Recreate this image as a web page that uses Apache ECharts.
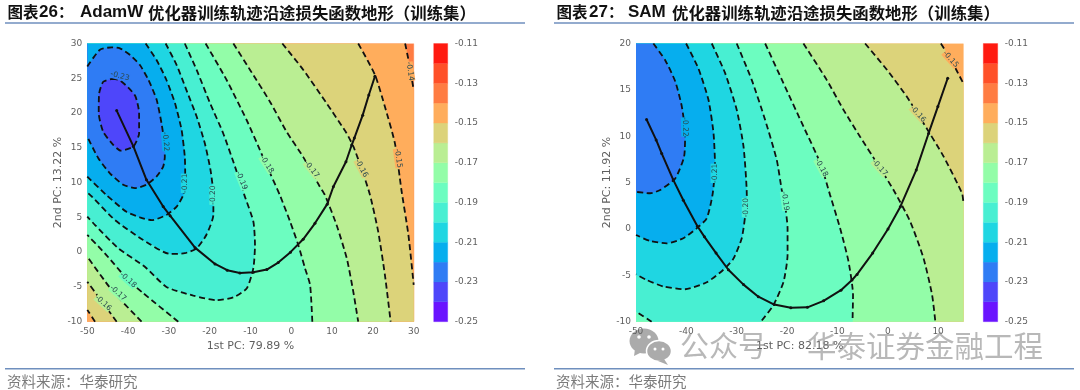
<!DOCTYPE html>
<html><head><meta charset="utf-8">
<style>html,body{margin:0;padding:0;background:#fff}#c{width:1080px;height:390px}</style>
<script src="https://cdn.jsdelivr.net/npm/echarts@6/dist/echarts.min.js"></script>
</head><body><div id="c"></div>
<script>
// Colour bands, low to high: one colour for each 0.01 of loss between -0.25 and -0.11
const bandColors = ['#6a14ff','#4e46fa','#2f7cf4','#06aeee','#1fd6e2','#48efd2','#6cfdc0','#93fda8','#baee93','#dcd37a','#ffad5c','#ff7c42','#ff5028','#ff1a10'];

// AdamW: contour lines [pc1, pc2]
const adam14 = [[27.9,30],[28.9,27.1],[30,23.3]];
const adam15 = [[16.4,30],[20.5,25.5],[22.95,20.9],[25.4,15.65],[27,8.9],[28.7,2.5],[30,-4.7]];
const adam15b = [[-48.1,-10],[-50,-8.3]];
const adam16 = [[-2.2,30],[2.95,26.2],[8.65,21.4],[13.55,17.1],[15.2,15.2],[17.2,12.05],[19.3,8.2],[21.3,2.95],[22.95,-3.3],[24.35,-10]];
const adam16b = [[-42.8,-10],[-47.3,-6.4],[-50,-4.25]];
const adam17 = [[-14.2,30],[-10.1,26.2],[-5.2,21.6],[-1.15,17.3],[2.9,13.7],[7,9.4],[8.25,8.2],[11.1,3.9],[13.6,-0.9],[15.2,-5.7],[16.4,-10]];
const adam17b = [[-36.7,-10],[-44,-5.45],[-50,-0.65]];
const adam18 = [[-21,30],[-15.85,24.75],[-10.95,19],[-7.7,14.7],[-5.2,11.35],[-2.8,8.2],[-0.3,4.4],[1.7,1.05],[3.35,-2.3],[4.6,-4.7],[5.15,-10]];
const adam18b = [[-27.7,-10],[-36.3,-5.9],[-40,-4],[-45.7,-0.17],[-50,2.47]];
const adam19 = [[-26.1,30],[-23.2,26.2],[-19.9,21.4],[-16.7,17.1],[-13.8,12.3],[-11.5,8.2],[-9.3,4.4],[-8.9,1],[-9.3,-2.3],[-10.9,-5.2],[-14.2,-6.5],[-18.3,-6.9],[-24,-6.25],[-30.6,-5],[-35.9,-2.1],[-42.4,0.55],[-48.1,3.9],[-50,5.1]];
const adam20 = [[-30.8,30],[-28.1,26.9],[-25.7,23.3],[-23.2,19.5],[-21.2,15.65],[-19.8,11.8],[-19.1,8.2],[-19.1,5.35],[-20.8,2.5],[-23.2,0.55],[-26.1,-0.15],[-29.7,-0.26],[-36.3,1.75],[-43.2,4.6],[-48.9,8],[-50,8.6]];
const adam21 = [[-35.7,30],[-33,27.6],[-30.6,24.75],[-28.5,21.4],[-26.9,17.6],[-26.1,13.7],[-26,10.9],[-26.5,8.2],[-28.1,6.55],[-30.6,5.35],[-34.2,4.6],[-37.1,5],[-40.4,5.8],[-45.3,8.2],[-50,10.85]];
const adam22 = [[-50,26.7],[-46.9,29.1],[-44,29.45],[-42,29.3],[-39.5,28.35],[-37.1,26.9],[-35,24.75],[-33,21.9],[-31.8,18.5],[-31.2,16.1],[-31,13.7],[-31.4,12.3],[-33,10.9],[-35.5,9.7],[-38.3,9.2],[-41.2,9.7],[-44.4,11.3],[-47.3,13.5],[-50,16.6]];
const adam23 = [[-44,24.9],[-42.2,24.75],[-40,23.7],[-38.2,22.4],[-37.3,20],[-37.3,17.1],[-38.7,15.2],[-41.8,14.6],[-43.6,15.4],[-46.1,17.3],[-47.2,20],[-47.1,22.8],[-46.1,24.5],[-44,24.9]];
const adamPath = [[-42.8,20.35],[-38.7,15.2],[-35.5,10.4],[-31.4,6.55],[-29.7,5.25],[-23.6,0.65],[-18.7,-1.7],[-15.7,-2.6],[-12.6,-3],[-9.3,-2.9],[-6,-2.5],[-3.2,-1.5],[-0.2,0],[2.9,1.85],[5.8,4.15],[8.8,6.9],[10.3,9.4],[13.4,13],[14.8,15.4],[15.45,16.4],[17.5,19.7],[19,22.6],[20.5,25.3]];
// [pc1, pc2, text, rotation in degrees, band index behind the text]
const adamLabels = [[-42,25.3,'-0.23',-15,2],[-30.8,15.9,'-0.22',-85,3],[-26.1,9.9,'-0.21',90,4],[-19.1,8.2,'-0.20',90,5],[-12.2,10.3,'-0.19',-68,6],[-6,12.6,'-0.18',-58,7],[-40,-4,'-0.18',-42,6],[5,11.9,'-0.17',-52,8],[-42.5,-5.9,'-0.17',-42,7],[17.2,12.05,'-0.16',-62,9],[-46.1,-7.3,'-0.16',-42,8],[26.2,13.5,'-0.15',-82,10],[29.1,26,'-0.14',-82,10]];

// SAM: contour lines
const sam15 = [[10.55,20],[12.4,18.4],[15,15.7]];
const sam16 = [[-4.5,20],[-0.15,17.15],[3.8,14.25],[7.1,11.4],[11.1,7.8],[14.75,3.85],[15,2.95]];
const sam17 = [[-16.75,20],[-12.1,16.05],[-8.8,12.85],[-5.5,9.95],[-2.15,7.1],[1.15,4.2],[4.45,0.8],[7.1,-3.15],[8.8,-7.1],[9.45,-10]];
const sam18 = [[-24.35,20],[-20.7,15.7],[-16.75,11.05],[-13.4,7.1],[-11.45,3.65],[-9.45,0.05],[-7.8,-3.5],[-6.9,-7.1],[-7,-10]];
const sam19 = [[-30,20],[-27,16.05],[-24.35,11.75],[-22.05,7.45],[-21.05,4.2],[-20.4,2.6],[-19.9,0.05],[-19.9,-2.8],[-20.7,-5.7],[-22.7,-8.2],[-25.2,-10]];
const sam19b = [[-46.9,-10],[-50,-8.9]];
const sam20 = [[-34.95,20],[-32.3,16.8],[-30,12.85],[-28.65,8.9],[-28,3.65],[-28.3,1.5],[-29,-1],[-30.65,-3.2],[-32.65,-4.4],[-35.95,-5.75],[-40.25,-6.5],[-44.55,-6.2],[-47.9,-5.5],[-50,-4.9]];
const sam21 = [[-40.05,20],[-37.6,17.3],[-35.6,13.9],[-34.6,10.3],[-34.3,6.7],[-34.8,3.7],[-35.95,1.15],[-37.95,0.07],[-40.6,-1],[-43.9,-1.55],[-47.2,-1.3],[-50,-0.65]];
const sam22 = [[-46.55,20],[-44.2,18.2],[-42.2,15.9],[-40.9,13.2],[-40.25,10.3],[-40.45,7.8],[-42.2,5.45],[-45.2,4.2],[-47.2,3.85],[-50,4]];
const samPath = [[-47.9,11.8],[-46,9.6],[-44.9,8.15],[-42.6,5.3],[-40.6,3.1],[-37.8,0.3],[-36.4,-0.85],[-34.1,-2.6],[-31.65,-4.4],[-28.65,-6],[-25.7,-7.3],[-22.55,-8.15],[-19.25,-8.5],[-15.95,-8.45],[-12.75,-7.75],[-9.3,-6.6],[-7.1,-5.5],[-6.1,-4.9],[-3,-2.6],[0.05,0],[2.5,2.4],[5.65,6.35],[8.1,10.3],[9.95,13.2],[11.9,16.25]];
const samLabels = [[-40.25,11,'-0.22',-88,3],[-34.4,6,'-0.21',90,4],[-28.2,2.3,'-0.20',90,5],[-20.4,3,'-0.19',-82,6],[-13.2,6.6,'-0.18',-62,7],[-1.6,6.6,'-0.17',-48,8],[6,12.4,'-0.16',-48,9],[12.5,18.3,'-0.15',-48,10]];

const adamXTicks = {min:-50,max:30,interval:10}, adamYTicks = {min:-10,max:30,interval:5};
const samXTicks = {min:-50,max:15,interval:10}, samYTicks = {min:-10,max:20,interval:5};
const barTicks = {min:-0.25,max:-0.11,interval:0.02};
const titles = {x1:'1st PC: 79.89 %',y1:'2nd PC: 13.22 %',x2:'1st PC: 82.18 %',y2:'2nd PC: 11.92 %'};

const join = (...p) => p.flat();
// Stacked regions "loss below this level", painted from the highest to the lowest
const adamRegions = [
 [11,[[-50,30],[30,30],[30,-10],[-50,-10]]],
 [10,join(adam14,[[30,-10],[-50,-10],[-50,30]])],
 [9,join(adam15,[[30,-10]],adam15b,[[-50,30]])],
 [8,join(adam16,adam16b,[[-50,30]])],
 [7,join(adam17,adam17b,[[-50,30]])],
 [6,join(adam18,adam18b,[[-50,30]])],
 [5,join(adam19,[[-50,30]])],
 [4,join(adam20,[[-50,30]])],
 [3,join(adam21,[[-50,30]])],
 [2,join(adam22,[[-50,30]])],
 [1,adam23]
];
const samRegions = [
 [10,[[-50,20],[15,20],[15,-10],[-50,-10]]],
 [9,join(sam15,[[15,-10],[-50,-10],[-50,20]])],
 [8,join(sam16,[[15,-10],[-50,-10],[-50,20]])],
 [7,join(sam17,[[-50,-10],[-50,20]])],
 [6,join(sam18,[[-50,-10],[-50,20]])],
 [5,join(sam19,sam19b,[[-50,20]])],
 [4,join(sam20,[[-50,20]])],
 [3,join(sam21,[[-50,20]])],
 [2,join(sam22,[[-50,20]])]
];
const adamLines = [adam14,adam15,adam15b,adam16,adam16b,adam17,adam17b,adam18,adam18b,adam19,adam20,adam21,adam22,adam23];
const samLines = [sam15,sam16,sam17,sam18,sam19,sam19b,sam20,sam21,sam22];

const LATIN = '"DejaVu Sans"';
const tickStyle = {color:'#5f5f5f',fontSize:9,fontFamily:LATIN};
function valueAxis(idx,ticks,name,extra,labelExtra){
  return Object.assign({type:'value',gridIndex:idx,min:ticks.min,max:ticks.max,interval:ticks.interval,
    splitLine:{show:false},axisLine:{show:false},axisTick:{show:false},
    axisLabel:Object.assign({},tickStyle,{margin:5},labelExtra||{}),
    name:name,nameLocation:'middle',nameTextStyle:{color:'#5f5f5f',fontSize:11,fontFamily:LATIN}},extra||{});
}
function regionSeries(g,regions){
  return {type:'custom',xAxisIndex:g,yAxisIndex:g,z:1,silent:true,clip:true,
    data:regions.map((r,i)=>[i]),
    renderItem:(p,api)=>{const r=regions[api.value(0)];
      return {type:'polygon',shape:{points:r[1].map(v=>api.coord(v))},style:{fill:bandColors[r[0]],stroke:bandColors[r[0]],lineWidth:0.5}};}};
}
function contourSeries(g,lines){
  return lines.map(l=>({type:'line',xAxisIndex:g,yAxisIndex:g,z:2,silent:true,data:l,symbol:'none',smooth:0.2,
    lineStyle:{color:'#111',width:1.8,type:[6,3.5]},animation:false}));
}
function labelSeries(g,labels){
  return {type:'custom',xAxisIndex:g,yAxisIndex:g,z:3,silent:true,clip:false,
    data:labels.map((l,i)=>[l[0],l[1],i]),
    renderItem:(p,api)=>{const l=labels[api.value(2)],c=api.coord([l[0],l[1]]);
      return {type:'text',x:c[0],y:c[1],rotation:l[3]*Math.PI/180,
        style:{text:l[2],fontSize:7.5,fontFamily:LATIN,fill:'#2a4a50',align:'center',verticalAlign:'middle',backgroundColor:bandColors[l[4]]}};}};
}
function pathSeries(g,path){
  return {type:'line',xAxisIndex:g,yAxisIndex:g,z:4,silent:true,data:path,symbol:'circle',symbolSize:3,
    itemStyle:{color:'#111'},lineStyle:{color:'#111',width:2},animation:false};
}
function colorbarSeries(g){
  return {type:'custom',xAxisIndex:g,yAxisIndex:g,z:1,silent:true,
    data:bandColors.map((c,i)=>[i]),
    renderItem:(p,api)=>{const i=api.value(0),low=barTicks.min+i*0.01,
        a=api.coord([0,low]),b=api.coord([1,low+0.01]);
      return {type:'rect',shape:{x:a[0],y:b[1],width:b[0]-a[0],height:a[1]-b[1]},style:{fill:bandColors[i],stroke:bandColors[i],lineWidth:0.3}};}};
}
const ruleColor='#6f8fbe';
function rule(x1,x2,y){return {type:'line',shape:{x1,y1:y,x2,y2:y},style:{stroke:ruleColor,lineWidth:1.5},silent:true};}
function txt(x,y,t,size,fam,fill,w){return {type:'text',x,y,silent:true,style:{text:t,fontSize:size,fontFamily:fam,fontWeight:w||'normal',fill:fill||'#111',verticalAlign:'middle'}};}
const CJK='"Noto Sans CJK SC"', ARIAL='"Liberation Sans"';
const mark='rgba(140,140,140,0.62)';
const graphics=[
 rule(5,525,23),rule(554,1074,23),rule(5,525,368.7),rule(554,1074,368.7),
 txt(7.5,12.5,'图表',15.5,CJK,'#111','bold'),txt(39,12.5,'26',17,ARIAL,'#111','bold'),txt(58,12.5,'：',15.5,CJK,'#111','bold'),
 txt(80,12.5,'AdamW',17,ARIAL,'#111','bold'),txt(148,12.5,'优化器训练轨迹沿途损失函数地形（训练集）',16.4,CJK,'#111','bold'),
 txt(556.5,12.5,'图表',15.5,CJK,'#111','bold'),txt(589,12.5,'27',17,ARIAL,'#111','bold'),txt(608,12.5,'：',15.5,CJK,'#111','bold'),
 txt(628,12.5,'SAM',17,ARIAL,'#111','bold'),txt(672,12.5,'优化器训练轨迹沿途损失函数地形（训练集）',16.4,CJK,'#111','bold'),
 txt(7,381,'资料来源：华泰研究',14.5,CJK,'#7b7b7b'),txt(556,381,'资料来源：华泰研究',14.5,CJK,'#7b7b7b'),
 {type:'group',silent:true,z:50,children:[
  {type:'ellipse',shape:{cx:644,cy:341,rx:14.5,ry:12.5},style:{fill:'#ababab'}},
  {type:'polygon',shape:{points:[[635,349],[634,356],[642,352]]},style:{fill:'#ababab'}},
  {type:'circle',shape:{cx:639,cy:337,r:1.8},style:{fill:'#fff'}},
  {type:'circle',shape:{cx:649,cy:337,r:1.8},style:{fill:'#fff'}},
  {type:'ellipse',shape:{cx:659,cy:351,rx:12.5,ry:10.5},style:{fill:'#ababab',stroke:'#fff',lineWidth:1.5}},
  {type:'polygon',shape:{points:[[664,359],[668,365],[658,361]]},style:{fill:'#ababab'}},
  {type:'circle',shape:{cx:655,cy:349,r:1.5},style:{fill:'#fff'}},
  {type:'circle',shape:{cx:663,cy:349,r:1.5},style:{fill:'#fff'}}
 ]},
 Object.assign(txt(680,346,'公众号',29,CJK,mark),{z:50}),
 Object.assign(txt(807,346,'华泰证券金融工程',29.5,CJK,mark),{z:50})
];

const chart=echarts.init(document.getElementById('c'),null,{renderer:'canvas'});
const barX={type:'value',min:0,max:1,show:false};
const barY=(g)=>({type:'value',gridIndex:g,position:'right',min:barTicks.min,max:barTicks.max,interval:barTicks.interval,
  splitLine:{show:false},axisLine:{show:false},axisTick:{show:false},
  axisLabel:Object.assign({},tickStyle,{margin:7,formatter:v=>v.toFixed(2)})});
chart.setOption({
 animation:false,backgroundColor:'#fff',
 grid:[
  {left:87.3,top:43.5,width:326.4,height:278.2},
  {left:433.7,top:43.5,width:14,height:278.2},
  {left:636,top:43.5,width:327.3,height:278.2},
  {left:983.3,top:43.5,width:14.4,height:278.2}
 ],
 xAxis:[
  valueAxis(0,adamXTicks,titles.x1,{nameGap:18}),Object.assign({gridIndex:1},barX),
  valueAxis(2,samXTicks,titles.x2,{nameGap:18},{showMaxLabel:false}),Object.assign({gridIndex:3},barX)
 ],
 yAxis:[
  valueAxis(0,adamYTicks,titles.y1,{nameGap:20}),barY(1),
  valueAxis(2,samYTicks,titles.y2,{nameGap:20}),barY(3)
 ],
 series:[
  regionSeries(0,adamRegions),...contourSeries(0,adamLines),labelSeries(0,adamLabels),pathSeries(0,adamPath),
  colorbarSeries(1),
  regionSeries(2,samRegions),...contourSeries(2,samLines),labelSeries(2,samLabels),pathSeries(2,samPath),
  colorbarSeries(3)
 ],
 graphic:graphics
});
</script></body></html>
